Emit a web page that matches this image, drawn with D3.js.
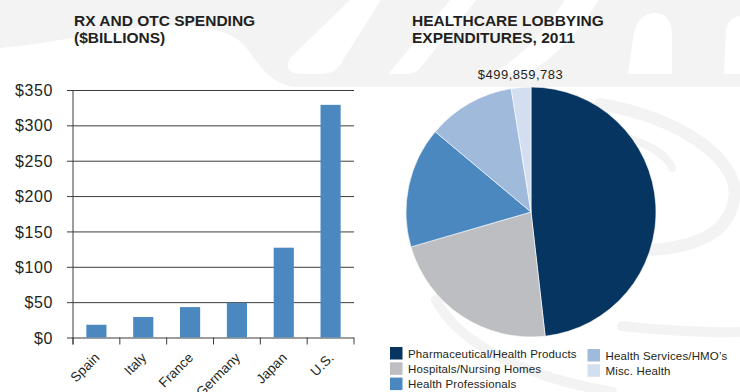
<!DOCTYPE html>
<html>
<head>
<meta charset="utf-8">
<script src="https://cdn.jsdelivr.net/npm/d3@7/dist/d3.min.js"></script>
<style>
  html, body { margin: 0; padding: 0; background: #fff; }
  svg { display: block; }
  text { font-family: "Liberation Sans", Arial, Helvetica, sans-serif; fill: #231f20; }
</style>
</head>
<body>
<svg id="chart" width="740" height="392"></svg>
<script>
// Rx and OTC spending by country ($ billions)
const countries = ["Spain", "Italy", "France", "Germany", "Japan", "U.S."];
const spending = [18, 29, 43, 49, 127, 329];
const yTicks = [0, 50, 100, 150, 200, 250, 300, 350];

// Healthcare lobbying expenditures, 2011 (dollars)
const sectors = [
  "Pharmaceutical/Health Products",
  "Hospitals/Nursing Homes",
  "Health Professionals",
  "Health Services/HMO\u2019s",
  "Misc. Health"
];
const lobbying = [240900000, 111500000, 78000000, 56800000, 12659783];
const sectorColors = ["#063562", "#bdbec1", "#4a88bf", "#a0badb", "#d3dff0"];

const svg = d3.select("#chart");

// ---- faint background logo ----
const bg = svg.append("g");
const wm = "#f3f3f3";
bg.append("path").attr("fill", wm)
  .attr("d", "M0,0 H740 V87 H300 C270,87 258,62 244,45 C220,20 160,22 110,32 C60,40 25,46 0,48 Z");
bg.append("path").attr("fill", "#fff")
  .attr("d", "M352,-2 L382,-2 L342,62 C336,72 330,74 318,74 L300,74 C288,74 284,66 292,56 Z");
bg.append("path").attr("fill", "#fff")
  .attr("d", "M452,-2 L478,-2 L420,68 C416,73 412,74 404,74 L388,74 Z");
bg.append("path").attr("fill", "#fff")
  .attr("d", "M566,-2 L600,-2 C580,30 555,60 525,74 L492,74 C525,55 550,25 566,-2 Z");
bg.append("path").attr("fill", "#fff")
  .attr("d", "M628,74 L634,32 C638,18 646,13 656,13 C666,13 672,22 672,36 L672,74 Z");
bg.append("path").attr("fill", "#fff")
  .attr("d", "M724,74 L726,30 C728,20 734,16 742,16 L742,74 Z");
const ring = [
  ["M600,104 C680,118 742,160 734,200 C728,232 700,246 652,250", 12],
  ["M628,138 C650,145 668,156 672,168", 8],
  ["M622,326 C660,330 705,333 742,332", 10],
  ["M436,300 C458,342 520,376 612,392", 10]
];
ring.forEach(([d, w]) => bg.append("path").attr("d", d).attr("fill", "none")
  .attr("stroke", wm).attr("stroke-width", w).attr("stroke-linecap", "round"));

// ---- bar chart ----
const barG = svg.append("g");
const x = d3.scaleBand().domain(countries).range([73, 354])
  .paddingInner(0.57).paddingOuter(0.285);
const y = d3.scaleLinear().domain([0, 350]).range([337.5, 90]);

barG.append("text").attr("x", 74).attr("y", 26)
  .style("font-weight", "bold").style("font-size", "15.5px").text("RX AND OTC SPENDING");
barG.append("text").attr("x", 74).attr("y", 43)
  .style("font-weight", "bold").style("font-size", "15.5px").text("($BILLIONS)");

const yAxis = barG.append("g").attr("transform", "translate(73,0)")
  .call(d3.axisLeft(y).tickValues(yTicks).tickFormat(d => "$" + d)
    .tickSize(-(354 - 73)).tickSizeOuter(0).tickPadding(20));
yAxis.select(".domain").remove();
yAxis.selectAll(".tick line").attr("x1", -6).attr("stroke", "#3c3c3c").attr("stroke-width", 1);
yAxis.selectAll(".tick text").style("font-size", "16px").style("letter-spacing", "0.6px")
  .attr("fill", "#231f20").attr("dy", "0.35em");

// vertical axis line
barG.append("line").attr("x1", 73).attr("x2", 73)
  .attr("y1", y(350)).attr("y2", y(0) + 7).attr("stroke", "#3c3c3c");

// bars
barG.selectAll("rect.bar").data(countries).join("rect").attr("class", "bar")
  .attr("x", d => x(d)).attr("width", x.bandwidth())
  .attr("y", (d, i) => y(spending[i]))
  .attr("height", (d, i) => y(0) - y(spending[i]))
  .attr("fill", "#4a88bf");

// category boundary ticks
const step = x.step();
const edges = d3.range(countries.length + 1).map(i => 73 + i * step);
barG.selectAll("line.edge").data(edges).join("line").attr("class", "edge")
  .attr("x1", d => d).attr("x2", d => d)
  .attr("y1", y(0)).attr("y2", y(0) + 7).attr("stroke", "#3c3c3c");

// rotated category labels
barG.selectAll("text.cat").data(countries).join("text").attr("class", "cat")
  .attr("transform", d => `translate(${x(d) + x.bandwidth() / 2 + 4},${y(0) + 21}) rotate(-45)`)
  .attr("text-anchor", "end").style("font-size", "13.5px").text(d => d);

// ---- pie chart ----
const pieG = svg.append("g");
pieG.append("text").attr("x", 412).attr("y", 26)
  .style("font-weight", "bold").style("font-size", "15.5px").text("HEALTHCARE LOBBYING");
pieG.append("text").attr("x", 412).attr("y", 43)
  .style("font-weight", "bold").style("font-size", "15.5px").text("EXPENDITURES, 2011");

const total = d3.sum(lobbying);
pieG.append("text").attr("x", 520.5).attr("y", 79).attr("text-anchor", "middle")
  .style("font-size", "13px").style("letter-spacing", "0.5px").attr("fill", "#333")
  .text("$" + d3.format(",")(total));

const pie = d3.pie().sort(null).value(d => d)(lobbying);
const arc = d3.arc().innerRadius(0).outerRadius(125);
pieG.append("g").attr("transform", "translate(531,212)")
  .selectAll("path").data(pie).join("path")
  .attr("d", arc).attr("fill", (d, i) => sectorColors[i])
  .attr("stroke", "#fff").attr("stroke-width", 0.6);

// legend
const legend = pieG.append("g");
sectors.forEach((s, i) => {
  const col = i < 3 ? 0 : 1;
  const row = i < 3 ? i : i - 3;
  const lx = col === 0 ? 390 : 587.5;
  const ly = (col === 0 ? 347 : 349) + row * 15.3;
  legend.append("rect").attr("x", lx).attr("y", ly).attr("width", 12.5).attr("height", 12.5)
    .attr("fill", sectorColors[i]);
  legend.append("text").attr("x", lx + 18).attr("y", ly + 10.5)
    .style("font-size", "11.5px").style("letter-spacing", "0.15px").attr("fill", "#333").text(s);
});
</script>
</body>
</html>
